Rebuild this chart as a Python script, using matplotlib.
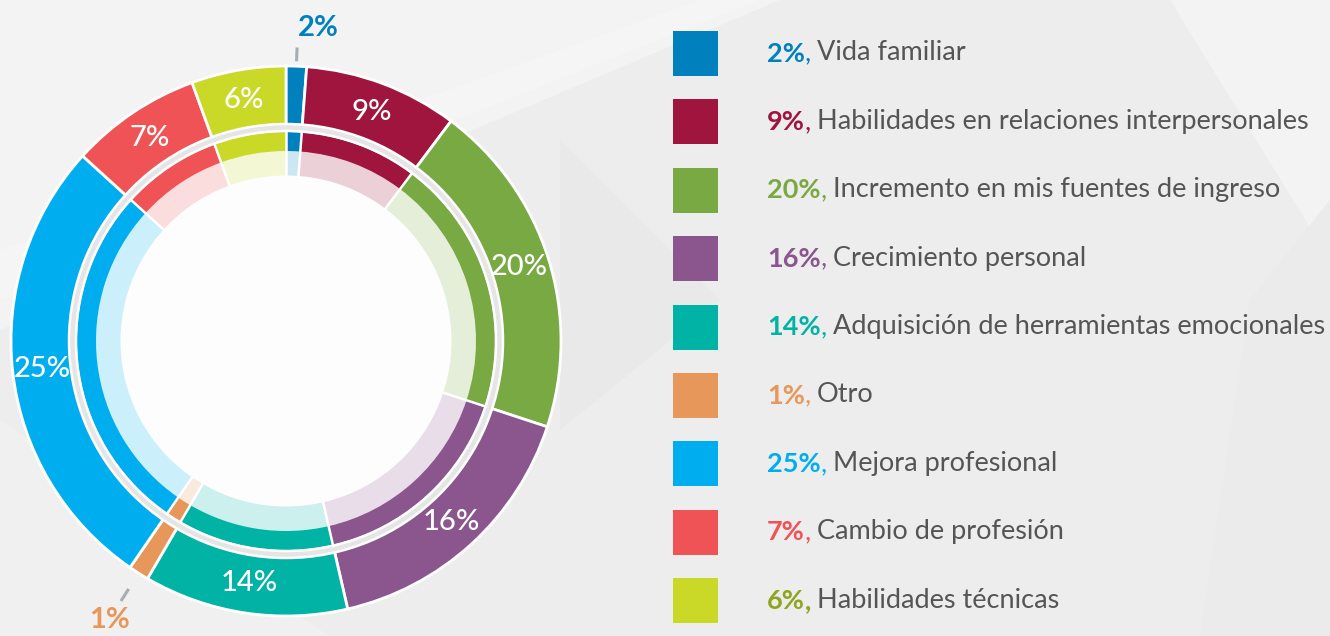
import matplotlib
matplotlib.use("Agg")
import matplotlib.pyplot as plt
from matplotlib.patches import Polygon, Circle, Annulus, Rectangle
import matplotlib.colors as mcolors
import numpy as np

# ---------------- data ----------------
categories = ["Vida familiar",
              "Habilidades en relaciones interpersonales",
              "Incremento en mis fuentes de ingreso",
              "Crecimiento personal",
              "Adquisición de herramientas emocionales",
              "Otro",
              "Mejora profesional",
              "Cambio de profesión",
              "Habilidades técnicas"]
pct_labels = ["2%", "9%", "20%", "16%", "14%", "1%", "25%", "7%", "6%"]
# wedge sizes as drawn in the reference (share of the full circle, %)
shares = [1.2, 9.05, 19.8, 16.35, 12.0, 1.2, 27.15, 7.7, 5.55]
colors = ["#0081BE", "#A0153E", "#78A942", "#8B568E", "#00B3A5",
          "#E8975A", "#00AEEF", "#F05355", "#CAD927"]
legend_pct_colors = ["#0081BE", "#A0153E", "#78A942", "#8B568E", "#00B3A5",
                     "#E8975A", "#00AEEF", "#F05355", "#8FA51E"]
outside_label = [True, False, False, False, False, True, False, False, False]
outside_dist = {0: 1.14, 5: 1.20}
outside_ha = {0: "left", 5: "center"}
leader_r = {0: (1.018, 1.068), 5: (1.068, 1.12)}
comma_bold = [False] * 8 + [True]

# ---------------- figure ----------------
W, H = 1330, 636
fig = plt.figure(figsize=(W / 100, H / 100), dpi=100)
ax = fig.add_axes([0, 0, 1, 1])
ax.set_facecolor("#EDEDED")
fig.patch.set_facecolor("#EDEDED")

def py(y_top):
    return H - y_top

# subtle background facets
bg_polys = [
    ([(0, 0), (780, 0), (0, 330)], "#F3F3F3"),
    ([(0, 250), (700, 0), (760, 0), (0, 300)], "#F5F5F5"),
    ([(1170, 0), (1330, 0), (1330, 260)], "#F3F3F3"),
    ([(560, 140), (720, 300), (560, 430)], "#E9E9E9"),
    ([(0, 420), (330, 636), (0, 636)], "#F0F0F0"),
    ([(1250, 300), (1330, 200), (1330, 636), (1200, 636)], "#EBEBEB"),
]
for pts, c in bg_polys:
    ax.add_patch(Polygon([(x, py(y)) for x, y in pts], closed=True,
                         facecolor=c, edgecolor="none", zorder=0))

cx, cy = 286, py(341)
R = 275
label_font = "Lato"

# outer ring
wedges, texts = ax.pie(shares, radius=R, center=(cx, cy), startangle=90,
                       counterclock=False, colors=colors,
                       labels=pct_labels, labeldistance=245 / R,
                       wedgeprops=dict(width=59, edgecolor="white", linewidth=2),
                       textprops=dict(fontsize=21, color="white",
                                      family=label_font, fontweight="medium"))
for i, t in enumerate(texts):
    if outside_label[i]:
        x, y = t.get_position()
        k = outside_dist[i] / (245 / R)
        t.set_position((cx + (x - cx) * k, cy + (y - cy) * k))
        t.set_color(colors[i])
        t.set_ha(outside_ha[i])
        t.set_va("center")
        t.set_fontweight("bold")
        # leader line
        ux, uy = (x - cx) / 245, (y - cy) / 245
        r0, r1 = R * leader_r[i][0], R * leader_r[i][1]
        ax.plot([cx + ux * r0, cx + ux * r1], [cy + uy * r0, cy + uy * r1],
                color="#A8ADB2", lw=2.2, solid_capstyle="butt", zorder=3)
    else:
        t.set_ha("center")
        t.set_va("center")

# gap ring
ax.add_patch(Annulus((cx, cy), r=217, width=7, facecolor="#E5E5E5",
                     edgecolor="white", linewidth=1.8, zorder=2))

# light inner ring
light = [mcolors.to_hex(0.2 * np.array(mcolors.to_rgb(c)) + 0.8) for c in colors]
ax.pie(shares, radius=191, center=(cx, cy), startangle=90, counterclock=False,
       colors=light, wedgeprops=dict(width=26, linewidth=0))
# thin inner ring
ax.pie(shares, radius=209, center=(cx, cy), startangle=90, counterclock=False,
       colors=colors, wedgeprops=dict(width=19, linewidth=0))
# separators of inner rings
cum = np.concatenate([[0], np.cumsum(shares)])
ang = np.deg2rad(90 - cum[:-1] / np.sum(shares) * 360)
for a in ang:
    ax.plot([cx + 165 * np.cos(a), cx + 210 * np.cos(a)],
            [cy + 165 * np.sin(a), cy + 210 * np.sin(a)],
            color="white", lw=1.8, zorder=3)
# centre
ax.add_patch(Circle((cx, cy), 165.5, facecolor="#FDFDFD", edgecolor="none", zorder=3))

# ---------------- legend ----------------
row0, step = 53.5, 68.4
fs = 19.5
for i, (name, pct) in enumerate(zip(categories, pct_labels)):
    yc = py(row0 + i * step)
    ax.add_patch(Rectangle((673, yc - 22.5), 45, 45, facecolor=colors[i],
                           edgecolor="none", zorder=2))
    t1 = ax.text(767, yc, pct, color=legend_pct_colors[i], fontsize=fs,
                 fontweight="bold", family=label_font, ha="left", va="center",
                 zorder=4)
    t2 = ax.annotate(",", xy=(1, 0), xycoords=t1, color=legend_pct_colors[i],
                     fontsize=fs, family=label_font,
                     fontweight="bold" if comma_bold[i] else "normal",
                     ha="left", va="bottom", zorder=4)
    ax.annotate(name, xy=(1, 0), xycoords=t2, xytext=(4.5, 0),
                textcoords="offset points", color="#555555", fontsize=fs,
                family=label_font, fontweight="normal", ha="left", va="bottom",
                zorder=4)

ax.set_xlim(0, W)
ax.set_ylim(0, H)
ax.set_aspect("auto")
ax.axis("off")
fig.savefig("out.png", dpi=100, facecolor=fig.get_facecolor())
